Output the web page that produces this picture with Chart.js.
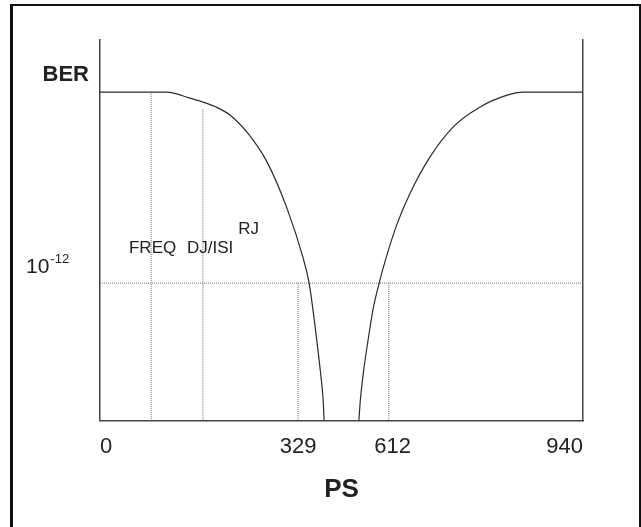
<!DOCTYPE html>
<html>
<head>
<meta charset="utf-8">
<script src="https://cdn.jsdelivr.net/npm/chart.js@4"></script>
<style>
    html, body { margin: 0; padding: 0; background: #fff; }
    #wrap { position: relative; width: 641px; height: 527px; overflow: hidden; }
    #frame {
        position: absolute; left: 10px; top: 4px; width: 631px; height: 600px;
        box-sizing: border-box; border: 2px solid #111; border-left-width: 3px;
        pointer-events: none;
    }
</style>
</head>
<body>
<div id="wrap">
    <canvas id="bathtub" width="641" height="527"></canvas>
    <div id="frame"></div>
</div>
<script>
    // schematic units: x = position across the unit interval (0..100), y = relative BER level (0..100)
    const leftX = [0, 13.9, 18.6, 21.3, 23.8, 26.9, 30.6, 34.6, 38.7, 42.0, 43.3, 44.5, 45.6, 46.2, 46.4];
    const leftBer = [86.3, 86.3, 84.7, 83.7, 82.5, 80.3, 75.5, 67.9, 55.8, 42.9, 36.1, 25.0, 13.2, 5.3, 0];
    const rightX = [53.6, 53.9, 54.6, 55.5, 56.5, 57.8, 59.2, 61.5, 64.2, 68.3, 73.1, 78.7, 84.3, 87.6, 100];
    const rightBer = [0, 5.3, 13.2, 21.1, 29.0, 36.1, 42.6, 51.6, 59.7, 69.2, 77.1, 82.4, 85.5, 86.3, 86.3];

    const berTarget = 36.1; // 10^-12 level
    const markerX = [10.6, 21.3, 41.0, 59.8];
    const markerTop = [86.3, 81.8, 36.1, 36.1];

    const tickPos = [0, 41.0, 60.6, 100];
    const tickLabels = ['0', '329', '612', '940'];

    const jitterNames = ['FREQ', 'DJ/ISI', 'RJ'];
    const jitterX = [6.0, 18.0, 28.6];
    const jitterY = [43.9, 43.9, 48.9];

    const FONT = "'Liberation Sans', Arial, Helvetica, sans-serif";

    const toPoints = (xs, ys) => xs.map((x, i) => ({ x, y: ys[i] }));

    const dotted = (points) => ({
        data: points,
        borderColor: '#6e6e6e',
        borderWidth: 1,
        borderDash: [1, 1],
        pointRadius: 0,
        showLine: true,
        fill: false
    });

    const curve = (points) => ({
        data: points,
        borderColor: '#2b2b2b',
        borderWidth: 1.2,
        pointRadius: 0,
        showLine: true,
        cubicInterpolationMode: 'monotone',
        fill: false
    });

    const markerSets = markerX.map((x, i) => dotted([{ x, y: markerTop[i] }, { x, y: 0 }]));

    const labelsPlugin = {
        id: 'bathtubLabels',
        afterDatasetsDraw(chart) {
            const { ctx, chartArea, scales: { x, y } } = chart;
            ctx.save();
            ctx.fillStyle = '#222';
            ctx.textBaseline = 'alphabetic';

            // jitter component labels
            ctx.font = '17px ' + FONT;
            ctx.textAlign = 'left';
            jitterNames.forEach((name, i) => {
                ctx.fillText(name, x.getPixelForValue(jitterX[i]), y.getPixelForValue(jitterY[i]));
            });

            // y axis captions
            ctx.font = 'bold 22px ' + FONT;
            ctx.textAlign = 'right';
            ctx.textBaseline = 'middle';
            ctx.fillText('BER', chartArea.left - 11, y.getPixelForValue(90.8));

            const levelY = y.getPixelForValue(berTarget);
            ctx.textAlign = 'left';
            ctx.textBaseline = 'alphabetic';
            ctx.font = '21px ' + FONT;
            const baseX = 26;
            ctx.fillText('10', baseX, levelY - 10);
            const w = ctx.measureText('10').width;
            ctx.font = '13px ' + FONT;
            ctx.fillText('-12', baseX + w + 1, levelY - 20);
            ctx.restore();
        }
    };

    new Chart(document.getElementById('bathtub'), {
        type: 'scatter',
        data: {
            datasets: [
                curve(toPoints(leftX, leftBer)),
                curve(toPoints(rightX, rightBer)),
                dotted([{ x: 0, y: berTarget }, { x: 100, y: berTarget }]),
                ...markerSets
            ]
        },
        options: {
            responsive: false,
            animation: false,
            layout: { padding: { left: 100, right: 58, top: 40, bottom: 22 } },
            plugins: { legend: { display: false }, tooltip: { enabled: false } },
            scales: {
                x: {
                    type: 'linear',
                    min: 0,
                    max: 100,
                    afterBuildTicks: (axis) => { axis.ticks = tickPos.map(v => ({ value: v })); },
                    ticks: {
                        callback: (value, index) => tickLabels[index],
                        autoSkip: false,
                        maxRotation: 0,
                        align: 'inner',
                        padding: 13,
                        color: '#222',
                        font: { family: FONT, size: 22 }
                    },
                    grid: { display: false, drawTicks: false },
                    border: { display: true, color: '#444', width: 1.5 },
                    title: {
                        display: true,
                        text: 'PS',
                        color: '#222',
                        font: { family: FONT, size: 26, weight: 'bold' },
                        padding: { top: 1, bottom: 0 }
                    }
                },
                y: {
                    type: 'linear',
                    min: 0,
                    max: 100,
                    ticks: { display: false },
                    grid: { display: false, drawTicks: false },
                    border: { display: true, color: '#444', width: 1.5 }
                },
                y2: {
                    type: 'linear',
                    position: 'right',
                    min: 0,
                    max: 100,
                    ticks: { display: false },
                    grid: { display: false, drawTicks: false },
                    border: { display: true, color: '#444', width: 1.5 }
                }
            }
        },
        plugins: [labelsPlugin]
    });
</script>
</body>
</html>
